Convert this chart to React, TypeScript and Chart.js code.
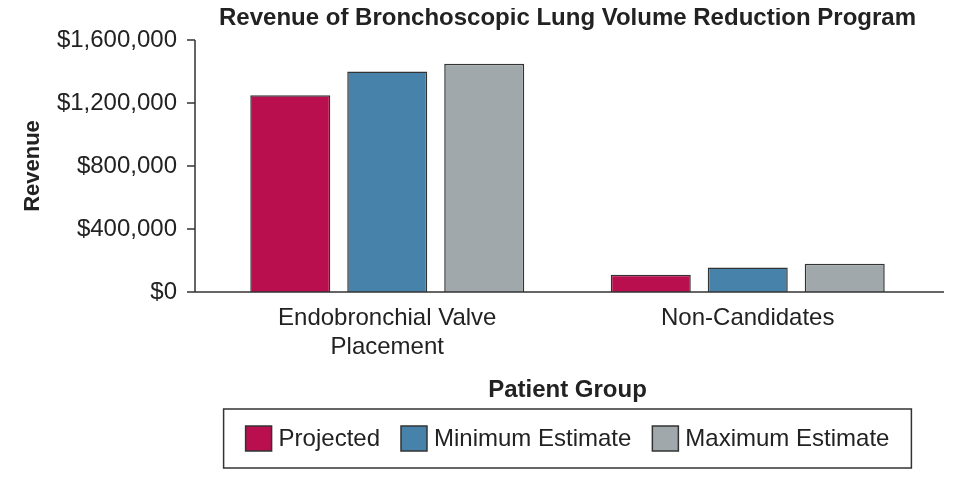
import React, { useEffect, useRef } from "react";
import { Chart, registerables } from "chart.js";

Chart.register(...registerables);

const chartTitle = "Revenue of Bronchoscopic Lung Volume Reduction Program";
const xTitle = "Patient Group";
const yTitle = "Revenue";
const categories = [["Endobronchial Valve", "Placement"], "Non-Candidates"];
const seriesNames = ["Projected", "Minimum Estimate", "Maximum Estimate"];
const projected = [1250000, 110000];
const minimumEstimate = [1400000, 155000];
const maximumEstimate = [1450000, 180000];
const yTicks = [0, 400000, 800000, 1200000, 1600000];
const seriesColors = ["#B90F4E", "#4682A9", "#A1A8AB"];

const FONT = "'Liberation Sans', Arial, Helvetica, sans-serif";
const TEXT = "#222222";
const LINE = "#333333";

const decor = {
  id: "decor",
  afterDraw(chart: any) {
    const { ctx, chartArea: a, scales } = chart;
    const y = scales.y;
    const x = scales.x;
    ctx.save();
    // axes
    ctx.strokeStyle = LINE;
    ctx.lineWidth = 1.5;
    const axisX = a.left - 12;
    ctx.beginPath();
    ctx.moveTo(axisX, a.top);
    ctx.lineTo(axisX, a.bottom);
    ctx.moveTo(axisX, a.bottom);
    ctx.lineTo(a.right + 16, a.bottom);
    y.ticks.forEach((t: any) => {
      const py = y.getPixelForValue(t.value);
      ctx.moveTo(axisX - 8, py);
      ctx.lineTo(axisX, py);
    });
    ctx.stroke();

    // title
    const cx = (a.left + a.right) / 2;
    ctx.fillStyle = TEXT;
    ctx.font = `bold 24px ${FONT}`;
    ctx.textAlign = "center";
    ctx.textBaseline = "middle";
    ctx.fillText(chartTitle, cx, 10);

    // legend
    ctx.font = `24px ${FONT}`;
    const items = chart.data.datasets.map((ds: any) => ({
      label: ds.label,
      color: ds.backgroundColor,
      w: ctx.measureText(ds.label).width,
    }));
    const sqW = 26, sqH = 25, gapT = 7, gapI = 21, padX = 22;
    const total = items.reduce(
      (s: number, it: any, i: number) => s + sqW + gapT + it.w + (i ? gapI : 0),
      0
    );
    const boxTop = x.bottom + 4;
    const boxH = 59;
    ctx.strokeStyle = LINE;
    ctx.lineWidth = 1.5;
    ctx.strokeRect(cx - total / 2 - padX, boxTop, total + 2 * padX, boxH);
    let lx = cx - total / 2;
    const cy = boxTop + boxH / 2;
    items.forEach((it: any) => {
      ctx.fillStyle = it.color;
      ctx.fillRect(lx, cy - sqH / 2, sqW, sqH);
      ctx.strokeRect(lx, cy - sqH / 2, sqW, sqH);
      ctx.fillStyle = TEXT;
      ctx.textAlign = "left";
      ctx.textBaseline = "middle";
      ctx.fillText(it.label, lx + sqW + gapT, cy + 1);
      lx += sqW + gapT + it.w + gapI;
    });
    ctx.restore();
  },
};

export default function App() {
  const ref = useRef<HTMLCanvasElement>(null);

  useEffect(() => {
    if (!ref.current) return;
    const seriesData = [projected, minimumEstimate, maximumEstimate];
    const chart = new Chart(ref.current, {
      type: "bar",
      data: {
        labels: categories as any,
        datasets: seriesNames.map((name, i) => ({
          label: name,
          data: seriesData[i],
          backgroundColor: seriesColors[i],
          borderColor: LINE,
          borderWidth: 1.5,
          categoryPercentage: 0.807,
          barPercentage: 0.825,
        })),
      },
      options: {
        responsive: false,
        animation: false,
        layout: { padding: { top: 32, right: 30, bottom: 80, left: 0 } },
        plugins: {
          legend: { display: false },
          title: { display: false },
          tooltip: { enabled: false },
        },
        scales: {
          x: {
            type: "category",
            offset: true,
            grid: { display: false },
            border: { display: false },
            ticks: {
              color: TEXT,
              font: { family: FONT, size: 24, lineHeight: 1.24 },
              padding: 3,
              maxRotation: 0,
              autoSkip: false,
            },
            title: {
              display: true,
              text: xTitle,
              color: TEXT,
              font: { family: FONT, size: 24, weight: "bold" },
              padding: { top: 0, bottom: 0 },
            },
            afterFit: (s: any) => {
              s.height = 113;
              s.paddingLeft = 0;
              s.paddingRight = 0;
            },
          },
          y: {
            min: 0,
            max: 1600000,
            grid: { display: false },
            border: { display: false },
            afterBuildTicks: (s: any) => {
              s.ticks = yTicks.map((v) => ({ value: v }));
            },
            ticks: {
              color: TEXT,
              font: { family: FONT, size: 24 },
              padding: 22,
              callback: (v: any) => "$" + Number(v).toLocaleString("en-US"),
            },
            title: {
              display: true,
              text: yTitle,
              color: TEXT,
              font: { family: FONT, size: 22, weight: "bold" },
              padding: { top: 12, bottom: 0 },
            },
            afterFit: (s: any) => {
              s.width = 199;
              s.paddingTop = 0;
              s.paddingBottom = 0;
            },
          },
        },
      },
      plugins: [decor],
    });
    return () => chart.destroy();
  }, []);

  return (
    <div style={{ width: 950, height: 477 }}>
      <canvas ref={ref} width={950} height={477} style={{ display: "block" }} />
    </div>
  );
}
